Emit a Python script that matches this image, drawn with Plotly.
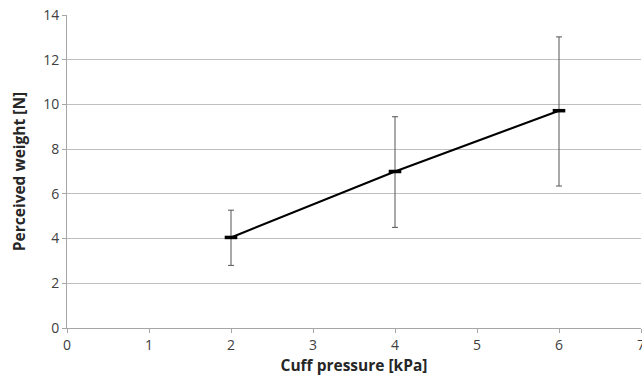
import plotly.graph_objects as go

pressure = [2, 4, 6]
weight = [4.05, 7.0, 9.72]
err_plus = [1.22, 2.45, 3.3]
err_minus = [1.25, 2.5, 3.37]

x_ticks = [0, 1, 2, 3, 4, 5, 6, 7]
y_ticks = [0, 2, 4, 6, 8, 10, 12, 14]

fig = go.Figure()
fig.add_trace(go.Scatter(
    x=pressure, y=weight, mode="lines+markers",
    line=dict(color="black", width=2),
    marker=dict(symbol="line-ew", size=9, line=dict(color="black", width=3.5)),
    error_y=dict(type="data", symmetric=False, array=err_plus, arrayminus=err_minus,
                 color="#555555", thickness=1, width=3),
    showlegend=False,
))

font_family = "Open Sans, Liberation Sans, sans-serif"
fig.update_layout(
    width=642, height=383,
    margin=dict(l=67, r=1, t=15, b=55),
    paper_bgcolor="white", plot_bgcolor="white",
    font=dict(family=font_family, size=14, color="#404040"),
    xaxis=dict(
        range=[0, 7], tickvals=x_ticks, showgrid=False, zeroline=False,
        showline=True, linecolor="#a6a6a6", linewidth=1,
        ticks="outside", ticklen=4, tickcolor="#a6a6a6",
        ticklabeloverflow="allow", automargin=False,
        title=dict(text="<b>Cuff pressure [kPa]</b>", font=dict(size=15.5, color="#262626"), standoff=6),
    ),
    yaxis=dict(
        range=[0, 14], tickvals=y_ticks, showgrid=True, gridcolor="#bfbfbf", gridwidth=1,
        zeroline=False, showline=True, linecolor="#a6a6a6", linewidth=1,
        ticks="outside", ticklen=4, tickcolor="#a6a6a6", automargin=False,
        title=dict(text="<b>Perceived weight [N]</b>", font=dict(size=15.5, color="#262626"), standoff=13),
    ),
)
fig.write_html("out.html")
